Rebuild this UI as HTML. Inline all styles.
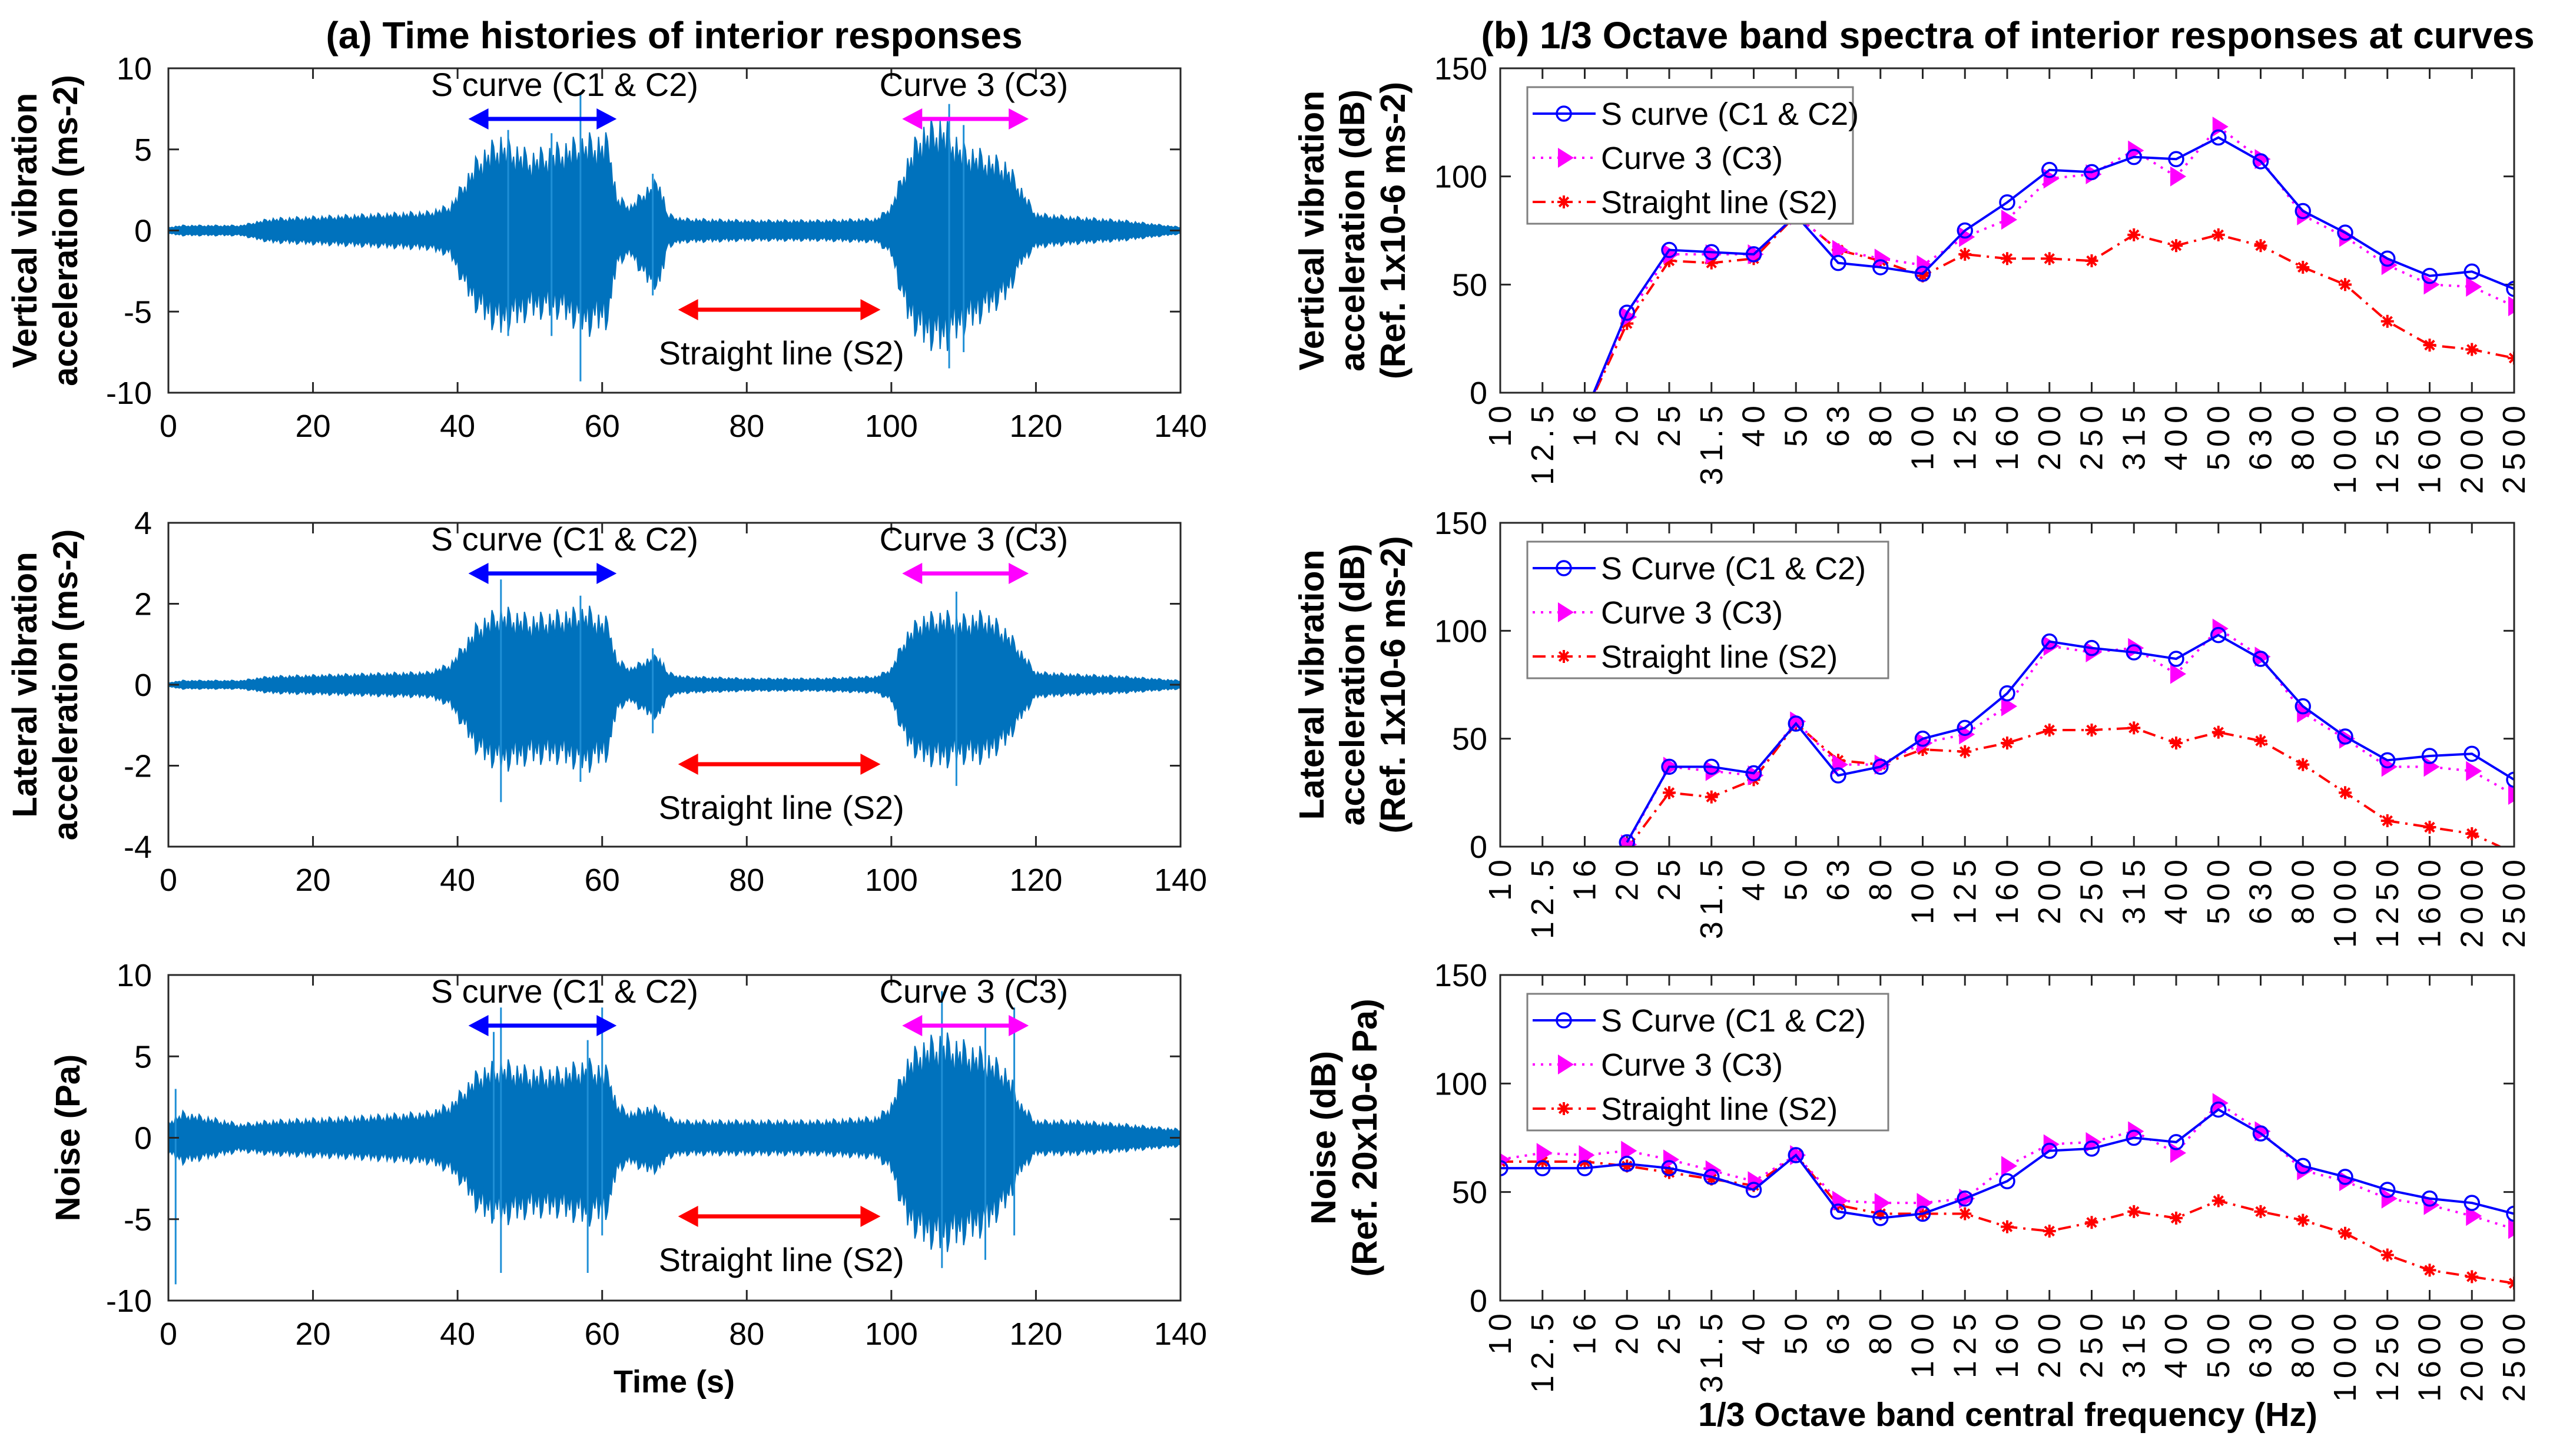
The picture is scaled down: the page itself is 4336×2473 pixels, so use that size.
<!DOCTYPE html>
<html><head><meta charset="utf-8"><style>
html,body{margin:0;padding:0;background:#fff;}
svg{display:block;}
text{font-family:"Liberation Sans",sans-serif;}
.nar{font-family:"Liberation Sans Narrow","Liberation Sans",sans-serif;}
</style></head><body>
<svg id="fig" width="4336" height="2473" viewBox="0 0 4336 2473" xmlns="http://www.w3.org/2000/svg">
<text x="1145" y="82" text-anchor="middle" font-size="64" font-weight="bold">(a) Time histories of interior responses</text>
<text x="3410" y="82" text-anchor="middle" font-size="64" font-weight="bold">(b) 1/3 Octave band spectra of interior responses at curves</text>
<text x="1145" y="2365" text-anchor="middle" font-size="54" font-weight="bold">Time (s)</text>
<text x="3410" y="2422" text-anchor="middle" font-size="57" font-weight="bold">1/3 Octave band central frequency (Hz)</text>
</svg>
<script>
// ---------- time-history data ----------
const times = [0,2,10,14,25,36,39,41,43,46,50,54,58,61,62,64,66,68,69,71,80,90,98,100,102,104,107,110,113,116,118,120,125,132,140];
const vertUpper = [0.2,0.3,0.3,0.7,0.9,1.1,1.5,3,4.5,5.5,4.5,5,5.5,5.5,2,1.5,2.5,3,1,0.7,0.6,0.6,0.7,1.5,4,6,6.5,5,4.5,4,2.5,1,0.8,0.6,0.2];
const vertLower = [-0.2,-0.3,-0.3,-0.7,-0.9,-1.1,-1.5,-3.5,-5,-6,-5,-5,-6,-5.5,-2,-1.5,-3,-3.5,-1,-0.7,-0.6,-0.6,-0.7,-1.5,-5,-6.5,-7,-6,-5,-4,-2,-1,-0.8,-0.6,-0.2];
const vertSpikes = [[57,8.5,-9.3],[47,6.2,-6.5],[108,7.8,-8.5],[110,6.5,-7.5],[53,6,-6.5],[67,3.5,-4]];
const latUpper = [0.05,0.1,0.1,0.2,0.25,0.3,0.5,1,1.5,1.8,1.6,1.7,1.8,1.5,0.6,0.4,0.6,0.7,0.3,0.2,0.15,0.15,0.2,0.4,1.2,1.6,1.7,1.6,1.7,1.3,0.8,0.3,0.25,0.2,0.1];
const latLower = [-0.05,-0.1,-0.1,-0.2,-0.25,-0.3,-0.5,-1.1,-1.7,-2,-1.8,-1.8,-2,-1.7,-0.6,-0.4,-0.7,-0.8,-0.3,-0.2,-0.15,-0.15,-0.2,-0.4,-1.4,-1.8,-1.9,-1.8,-1.8,-1.4,-0.8,-0.3,-0.25,-0.2,-0.1];
const latSpikes = [[46,2.6,-2.9],[109,2.3,-2.5],[57,2.2,-2.4],[67,0.9,-1.2]];
const noiseUpper = [1,1.5,0.8,1,1.2,1.5,2,3,4,4.5,4,4,4.5,4,2,1.5,1.8,1.8,1.2,1,1,1,1.2,2,4.5,5.5,6,5.5,5,4,2,1,1,0.8,0.5];
const noiseLower = [-1,-1.5,-0.8,-1,-1.2,-1.5,-2,-3,-4.5,-5,-4.5,-4.5,-5,-4.5,-2,-1.5,-2,-2,-1.2,-1,-1,-1,-1.2,-2,-5,-6,-6.5,-6,-5.5,-4,-2,-1,-1,-0.8,-0.5];
const noiseSpikes = [[1,3,-9],[46,8,-8.3],[60,8,-6],[107,9,-8],[117,8,-6],[113,7,-7.5],[45,6.5,-5],[58,6,-8.3]];
const timeTicks = [0,20,40,60,80,100,120,140];

// ---------- spectra data ----------
const bands = ["10","12.5","16","20","25","31.5","40","50","63","80","100","125","160","200","250","315","400","500","630","800","1000","1250","1600","2000","2500"];
const dbTicks = [0,50,100,150];
const vertS = [null,null,-10,37,66,65,64,82,60,58,55,75,88,103,102,109,108,118,107,84,74,62,54,56,48];
const vertC3 = [null,null,-10,35,64,64,64,82,66,62,59,72,80,99,101,112,100,123,108,82,72,59,50,49,40];
const vertS2 = [null,null,-10,32,61,60,62,82,66,61,54,64,62,62,61,73,68,73,68,58,50,33,22,20,16];
const latS = [null,null,null,2,37,37,34,57,33,37,50,55,71,95,92,90,87,98,87,65,51,40,42,43,31];
const latC3 = [null,null,null,1,37,35,33,58,38,38,48,52,65,93,90,92,80,101,88,62,50,37,37,35,24];
const latS2 = [null,null,null,-1,25,23,31,57,40,38,45,44,48,54,54,55,48,53,49,38,25,12,9,6,-3];
const noiS = [61,61,61,63,61,57,51,67,41,38,40,47,55,69,70,75,73,88,77,62,57,51,47,45,40];
const noiC3 = [65,68,67,69,65,60,55,67,46,45,45,47,62,72,73,78,68,91,78,60,55,47,44,39,33];
const noiS2 = [64,64,64,62,59,56,53,67,44,40,40,40,34,32,36,41,38,46,41,37,31,21,14,11,8];

const NS = "http://www.w3.org/2000/svg";
const svg = document.getElementById('fig');
function mk(tag, attrs, parent){const e=document.createElementNS(NS,tag);for(const k in attrs)e.setAttribute(k,attrs[k]);(parent||svg).appendChild(e);return e;}

const L = {x0:286,x1:2005};
const R = {x0:2548,x1:4270};
const rows = [{y0:116,y1:667},{y0:888,y1:1438},{y0:1656,y1:2209}];

// ---------- left panels ----------
const leftDefs = [
 {up:vertUpper,lo:vertLower,sp:vertSpikes,min:-10,max:10,ticks:[-10,-5,0,5,10],lab:["Vertical vibration","acceleration (ms-2)"],name:"vertical"},
 {up:latUpper,lo:latLower,sp:latSpikes,min:-4,max:4,ticks:[-4,-2,0,2,4],lab:["Lateral vibration","acceleration (ms-2)"],name:"lateral"},
 {up:noiseUpper,lo:noiseLower,sp:noiseSpikes,min:-10,max:10,ticks:[-10,-5,0,5,10],lab:["Noise (Pa)"],name:"noise"}
];
leftDefs.forEach((d,i)=>{
  const r=rows[i];
  const g=mk('g',{});
  
  
  const xs=t=>L.x0+(t/140)*(L.x1-L.x0);
  const ys=v=>r.y1-(v-d.min)/(d.max-d.min)*(r.y1-r.y0);
  const interp=(arr,t)=>{for(let k=0;k<times.length-1;k++){if(t>=times[k]&&t<=times[k+1]){const f=(t-times[k])/(times[k+1]-times[k]);return arr[k]+f*(arr[k+1]-arr[k]);}}return arr[arr.length-1];};
  let top=[],bot=[];
  for(let t=0;t<=140;t+=0.25){
    const j=[1,0.75,0.9,0.65,1.05,0.8,0.95,0.7,1.1][Math.round(t*4)%9];
    top.push(xs(t).toFixed(1)+','+ys(interp(d.up,t)*j).toFixed(1));
    bot.unshift(xs(t).toFixed(1)+','+ys(interp(d.lo,t)*j).toFixed(1));
  }
  const p=mk('polygon',{points:top.concat(bot).join(' '),fill:'#0072BD',stroke:'#0072BD','stroke-width':2},g);
  
  
  d.sp.forEach(s=>{
    const l=mk('line',{x1:xs(s[0]),x2:xs(s[0]),y1:ys(s[1]),y2:ys(s[2]),stroke:'#1f8fd6','stroke-width':3},g);
    
    
  });
  const box=mk('rect',{x:L.x0,y:r.y0,width:L.x1-L.x0,height:r.y1-r.y0,fill:'none',stroke:'#262626','stroke-width':3},g);
  
  
  timeTicks.forEach(t=>{
    mk('line',{x1:xs(t),x2:xs(t),y1:r.y1,y2:r.y1-18,stroke:'#262626','stroke-width':3},g);
    mk('line',{x1:xs(t),x2:xs(t),y1:r.y0,y2:r.y0+18,stroke:'#262626','stroke-width':3},g);
    const tx=mk('text',{x:xs(t),y:r.y1+75,'text-anchor':'middle','font-size':54,class:'nar'},g);
    tx.textContent=t;
    
    
  });
  d.ticks.forEach(v=>{
    mk('line',{x1:L.x0,x2:L.x0+18,y1:ys(v),y2:ys(v),stroke:'#262626','stroke-width':3},g);
    mk('line',{x1:L.x1,x2:L.x1-18,y1:ys(v),y2:ys(v),stroke:'#262626','stroke-width':3},g);
    const tx=mk('text',{x:L.x0-28,y:ys(v)+19,'text-anchor':'end','font-size':54,class:'nar'},g);
    tx.textContent=v;
    
    
  });
  const cy=(r.y0+r.y1)/2;
  d.lab.forEach((s,k)=>{
    const x = d.lab.length===1?135:(62+k*69);
    const tx=mk('text',{x:x,y:cy,'text-anchor':'middle','font-size':58,'font-weight':'bold',transform:`rotate(-90 ${x} ${cy})`},g);
    tx.textContent=s;
    
    
  });
  const arrow=(t0,t1,y,col,name)=>{
    const a=mk('g',{},g);
    
    
    const xa=xs(t0),xb=xs(t1);
    mk('line',{x1:xa+30,x2:xb-30,y1:y,y2:y,stroke:col,'stroke-width':7},a);
    mk('polygon',{points:`${xa},${y} ${xa+34},${y-18} ${xa+34},${y+18}`,fill:col},a);
    mk('polygon',{points:`${xb},${y} ${xb-34},${y-18} ${xb-34},${y+18}`,fill:col},a);
  };
  arrow(41.5,62,r.y0+86,'#0000ff','arrow-s-curve');
  arrow(101.5,119,r.y0+86,'#ff00ff','arrow-curve-3');
  arrow(70.5,98.5,r.y0+410,'#ff0000','arrow-straight-line');
  const ann=(t,y,s,name)=>{const tx=mk('text',{x:xs(t),y:y,'text-anchor':'middle','font-size':56,class:'nar'},g);tx.textContent=s;};
  ann(54.8,r.y0+47,'S curve (C1 & C2)','label-s-curve');
  ann(111.4,r.y0+47,'Curve 3 (C3)','label-curve-3');
  ann(84.8,r.y0+503,'Straight line (S2)','label-straight-line');
});

// ---------- right panels ----------
const rightDefs = [
 {s:vertS,c:vertC3,st:vertS2,lab:["Vertical vibration","acceleration (dB)","(Ref. 1x10-6 ms-2)"],leg:"S curve (C1 & C2)",lw:553,name:"vertical"},
 {s:latS,c:latC3,st:latS2,lab:["Lateral vibration","acceleration (dB)","(Ref. 1x10-6 ms-2)"],leg:"S Curve (C1 & C2)",lw:613,name:"lateral"},
 {s:noiS,c:noiC3,st:noiS2,lab:["Noise (dB)","(Ref. 20x10-6 Pa)"],leg:"S Curve (C1 & C2)",lw:613,name:"noise"}
];
rightDefs.forEach((d,i)=>{
  const r=rows[i];
  const g=mk('g',{});
  
  
  const clipId='clip'+i;
  const cp=mk('clipPath',{id:clipId},g);
  mk('rect',{x:R.x0,y:r.y0,width:R.x1-R.x0,height:r.y1-r.y0},cp);
  const xs=k=>R.x0+k*(R.x1-R.x0)/(bands.length-1);
  const ys=v=>r.y1-v/150*(r.y1-r.y0);
  bands.forEach((b,k)=>{
    mk('line',{x1:xs(k),x2:xs(k),y1:r.y1,y2:r.y1-18,stroke:'#262626','stroke-width':3},g);
    mk('line',{x1:xs(k),x2:xs(k),y1:r.y0,y2:r.y0+18,stroke:'#262626','stroke-width':3},g);
    const x=xs(k)+18, y=r.y1+12;
    const tx=mk('text',{x:x,y:y,'text-anchor':'end','font-size':54,'letter-spacing':10,transform:`rotate(-90 ${x} ${y})`},g);
    tx.textContent=b;
    
    
  });
  dbTicks.forEach(v=>{
    mk('line',{x1:R.x0,x2:R.x0+18,y1:ys(v),y2:ys(v),stroke:'#262626','stroke-width':3},g);
    mk('line',{x1:R.x1,x2:R.x1-18,y1:ys(v),y2:ys(v),stroke:'#262626','stroke-width':3},g);
    const tx=mk('text',{x:R.x0-22,y:ys(v)+19,'text-anchor':'end','font-size':54,class:'nar'},g);
    tx.textContent=v;
    
    
  });
  const cy=(r.y0+r.y1)/2;
  d.lab.forEach((s,k)=>{
    const x = d.lab.length===2?(2268+k*70):(2248+k*69);
    const tx=mk('text',{x:x,y:cy,'text-anchor':'middle','font-size':59,'font-weight':'bold',transform:`rotate(-90 ${x} ${cy})`},g);
    tx.textContent=s;
    
    
  });
  const series=[
    {v:d.s,col:'#0000ff',dash:'',m:'o',name:'series-s-curve'},
    {v:d.c,col:'#ff00ff',dash:'4 10',m:'tri',name:'series-curve-3'},
    {v:d.st,col:'#ff0000',dash:'22 10 4 10',m:'star',name:'series-straight-line'}
  ];
  const marker=(m,x,y,col,par)=>{
    if(m==='o') return mk('circle',{cx:x,cy:y,r:12,fill:'none',stroke:col,'stroke-width':3.5},par);
    if(m==='tri') return mk('polygon',{points:`${x+17},${y} ${x-10},${y-17} ${x-10},${y+17}`,fill:col},par);
    const gg=mk('g',{stroke:col,'stroke-width':4},par);
    [0,45,90,135].forEach(a=>{const c=Math.cos(a*Math.PI/180)*11,s=Math.sin(a*Math.PI/180)*11;mk('line',{x1:x-c,y1:y-s,x2:x+c,y2:y+s},gg);});
    return gg;
  };
  series.slice().reverse().forEach(se=>{
    const sg=mk('g',{'clip-path':`url(#${clipId})`},g);
    
    
    const pts=[];
    se.v.forEach((v,k)=>{if(v!==null)pts.push([xs(k),ys(v)]);});
    mk('polyline',{points:pts.map(p=>p.join(',')).join(' '),fill:'none',stroke:se.col,'stroke-width':4,'stroke-dasharray':se.dash},sg);
    pts.forEach(p=>{const mm=marker(se.m,p[0],p[1],se.col,sg);});
  });
  const box=mk('rect',{x:R.x0,y:r.y0,width:R.x1-R.x0,height:r.y1-r.y0,fill:'none',stroke:'#262626','stroke-width':3},g);
  
  
  const lg=mk('g',{},g);
  
  
  mk('rect',{x:2594,y:r.y0+32,width:d.lw,height:232,fill:'#fff',stroke:'#7f7f7f','stroke-width':3},lg);
  const labels=[d.leg,'Curve 3 (C3)','Straight line (S2)'];
  series.forEach((se,k)=>{
    const y=r.y0+77+k*75;
    const e=mk('g',{},lg);
    
    
    mk('line',{x1:2603,x2:2710,y1:y,y2:y,stroke:se.col,'stroke-width':4,'stroke-dasharray':se.dash},e);
    marker(se.m,2656,y,se.col,e);
    const tx=mk('text',{x:2719,y:y+19,'font-size':54},e);
    tx.textContent=labels[k];
  });
});
</script>
</body></html>
